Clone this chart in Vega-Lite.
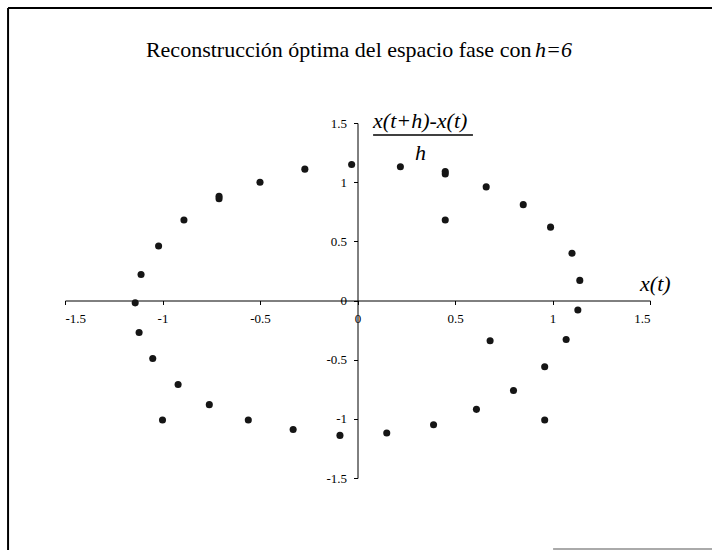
{
  "$schema": "https://vega.github.io/schema/vega-lite/v6.json",
  "autosize": {"type": "none"},
  "width": 585,
  "height": 355,
  "padding": {"left": 65, "top": 123, "right": 62, "bottom": 72},
  "background": "white",
  "config": {
    "view": {"stroke": null},
    "font": "Liberation Serif",
    "text": {"fontWeight": "normal", "font": "Liberation Serif", "fill": "#000"},
    "axis": {
      "grid": false,
      "title": null,
      "domainColor": "#000",
      "domainWidth": 1,
      "tickColor": "#000",
      "tickSize": 4,
      "labelFont": "Liberation Serif",
      "labelFontSize": 13,
      "labelColor": "#000",
      "labelExpr": "toString(datum.value)"
    }
  },
  "layer": [
    {
      "data": {
        "values": [
          {"x": -1.14, "y": -0.02},
          {"x": -1.11, "y": 0.22},
          {"x": -1.02, "y": 0.46},
          {"x": -0.89, "y": 0.68},
          {"x": -0.71, "y": 0.86},
          {"x": -0.71, "y": 0.88},
          {"x": -0.50, "y": 1.00},
          {"x": -0.27, "y": 1.11},
          {"x": -0.03, "y": 1.15},
          {"x": 0.22, "y": 1.13},
          {"x": 0.45, "y": 1.07},
          {"x": 0.45, "y": 1.09},
          {"x": 0.45, "y": 0.68},
          {"x": 0.66, "y": 0.96},
          {"x": 0.85, "y": 0.81},
          {"x": 0.99, "y": 0.62},
          {"x": 1.10, "y": 0.40},
          {"x": 1.14, "y": 0.17},
          {"x": 1.13, "y": -0.08},
          {"x": -1.12, "y": -0.27},
          {"x": -1.05, "y": -0.49},
          {"x": -0.92, "y": -0.71},
          {"x": -0.76, "y": -0.88},
          {"x": -1.00, "y": -1.01},
          {"x": -0.56, "y": -1.01},
          {"x": -0.33, "y": -1.09},
          {"x": -0.09, "y": -1.14},
          {"x": 0.15, "y": -1.12},
          {"x": 0.39, "y": -1.05},
          {"x": 0.61, "y": -0.92},
          {"x": 0.80, "y": -0.76},
          {"x": 0.96, "y": -0.56},
          {"x": 0.96, "y": -1.01},
          {"x": 0.68, "y": -0.34},
          {"x": 1.07, "y": -0.33}
        ]
      },
      "mark": {"type": "point", "filled": true, "color": "#151515", "size": 50, "opacity": 1},
      "encoding": {
        "x": {
          "field": "x", "type": "quantitative",
          "scale": {"domain": [-1.5, 1.5], "nice": false, "zero": false},
          "axis": {"orient": "bottom", "offset": -177.5, "values": [-1.5, -1, -0.5, 0, 0.5, 1, 1.5], "labelPadding": 8}
        },
        "y": {
          "field": "y", "type": "quantitative",
          "scale": {"domain": [-1.5, 1.5], "nice": false, "zero": false},
          "axis": {"orient": "left", "offset": -292.5, "values": [-1.5, -1, -0.5, 0, 0.5, 1, 1.5], "labelPadding": 7}
        }
      }
    },
    {
      "data": {"values": [{}]},
      "mark": {"type": "text", "text": "Reconstrucción óptima del espacio fase con", "align": "left", "baseline": "alphabetic", "fontSize": 22},
      "encoding": {
        "x": {"datum": -1.085, "type": "quantitative"},
        "y": {"datum": 2.058, "type": "quantitative"}
      }
    },
    {
      "data": {"values": [{}]},
      "mark": {"type": "text", "text": "h=6", "align": "left", "baseline": "alphabetic", "fontStyle": "italic", "fontSize": 22, "dx": 6},
      "encoding": {
        "x": {"datum": 0.88, "type": "quantitative"},
        "y": {"datum": 2.058, "type": "quantitative"}
      }
    },
    {
      "data": {"values": [{}]},
      "mark": {"type": "text", "text": "x(t+h)-x(t)", "align": "left", "baseline": "alphabetic", "fontStyle": "italic", "fontSize": 22},
      "encoding": {
        "x": {"datum": 0.08, "type": "quantitative"},
        "y": {"datum": 1.458, "type": "quantitative"}
      }
    },
    {
      "data": {"values": [{}]},
      "mark": {"type": "rule", "color": "#000", "strokeWidth": 1.5},
      "encoding": {
        "x": {"datum": 0.08, "type": "quantitative"},
        "x2": {"datum": 0.592},
        "y": {"datum": 1.399, "type": "quantitative"}
      }
    },
    {
      "data": {"values": [{}]},
      "mark": {"type": "text", "text": "h", "align": "left", "baseline": "alphabetic", "fontStyle": "italic", "fontSize": 22},
      "encoding": {
        "x": {"datum": 0.295, "type": "quantitative"},
        "y": {"datum": 1.187, "type": "quantitative"}
      }
    },
    {
      "data": {"values": [{}]},
      "mark": {"type": "text", "text": "x(t)", "align": "left", "baseline": "alphabetic", "fontStyle": "italic", "fontSize": 22},
      "encoding": {
        "x": {"datum": 1.449, "type": "quantitative"},
        "y": {"datum": 0.08, "type": "quantitative"}
      }
    },
    {
      "data": {"values": [{}]},
      "mark": {"type": "rule", "color": "#000", "strokeWidth": 2},
      "encoding": {
        "x": {"datum": -1.792, "type": "quantitative"},
        "y": {"datum": 2.472, "type": "quantitative"},
        "y2": {"datum": -2.2}
      }
    },
    {
      "data": {"values": [{}]},
      "mark": {"type": "rule", "color": "#000", "strokeWidth": 2},
      "encoding": {
        "x": {"datum": -1.792, "type": "quantitative"},
        "x2": {"datum": 1.9},
        "y": {"datum": 2.472, "type": "quantitative"}
      }
    },
    {
      "data": {"values": [{}]},
      "mark": {"type": "rule", "color": "#aaa", "strokeWidth": 2},
      "encoding": {
        "x": {"datum": 1.003, "type": "quantitative"},
        "x2": {"datum": 1.9},
        "y": {"datum": -2.1, "type": "quantitative"}
      }
    }
  ]
}
